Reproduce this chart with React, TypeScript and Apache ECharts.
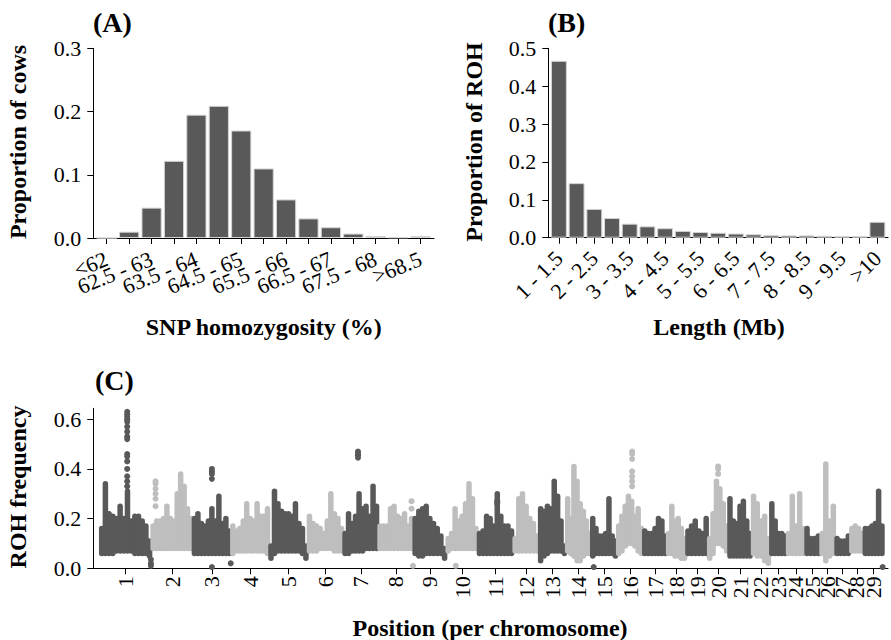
import React, { useEffect, useRef } from 'react';
import * as echarts from 'echarts';

// ---------- Panel A: SNP homozygosity ----------
const homozygosityBins = ['<62', '62 - 62.5', '62.5 - 63', '63 - 63.5', '63.5 - 64', '64 - 64.5', '64.5 - 65', '65 - 65.5', '65.5 - 66', '66 - 66.5', '66.5 - 67', '67 - 67.5', '67.5 - 68', '68 - 68.5', '>68.5'];
const cowProportion = [0, 0.010, 0.048, 0.122, 0.195, 0.209, 0.170, 0.110, 0.061, 0.031, 0.017, 0.007, 0.003, 0.001, 0.003];

// ---------- Panel B: ROH length ----------
const rohLengthBins = ['1 - 1.5', '1.5 - 2', '2 - 2.5', '2.5 - 3', '3 - 3.5', '3.5 - 4', '4 - 4.5', '4.5 - 5', '5 - 5.5', '5.5 - 6', '6 - 6.5', '6.5 - 7', '7 - 7.5', '7.5 - 8', '8 - 8.5', '8.5 - 9', '9 - 9.5', '9.5 - 10', '>10'];
const rohProportion = [0.467, 0.144, 0.076, 0.052, 0.037, 0.030, 0.025, 0.018, 0.015, 0.013, 0.011, 0.009, 0.007, 0.006, 0.006, 0.005, 0.004, 0.004, 0.042];

// ---------- Panel C: ROH frequency along the genome ----------
const chromosomes = ['1', '2', '3', '4', '5', '6', '7', '8', '9', '10', '11', '12', '13', '14', '15', '16', '17', '18', '19', '20', '21', '22', '23', '24', '25', '26', '27', '28', '29'];
const chromLengthMb = [165, 132, 123, 122, 123, 114, 112, 112, 106, 100, 114, 82, 87, 80, 83, 83, 77, 61, 70, 65, 75, 59, 53, 59, 48, 48, 48, 43, 64];

// upper envelope of the ROH frequency cloud, windows evenly spaced along each chromosome
const rohUpper = [
  [0.16, 0.34, 0.22, 0.21, 0.20, 0.25, 0.20, 0.31, 0.19, 0.21, 0.21, 0.19, 0.17, 0.11],
  [0.17, 0.19, 0.19, 0.20, 0.25, 0.20, 0.19, 0.30, 0.38, 0.33, 0.24, 0.20],
  [0.20, 0.22, 0.18, 0.17, 0.19, 0.24, 0.19, 0.29, 0.18, 0.20, 0.15],
  [0.17, 0.15, 0.16, 0.19, 0.26, 0.20, 0.19, 0.26, 0.21, 0.21, 0.24],
  [0.09, 0.31, 0.26, 0.23, 0.22, 0.22, 0.21, 0.26, 0.18, 0.16, 0.09],
  [0.21, 0.18, 0.17, 0.16, 0.14, 0.19, 0.30, 0.22, 0.20, 0.16],
  [0.14, 0.22, 0.18, 0.21, 0.30, 0.24, 0.25, 0.21, 0.33, 0.25],
  [0.17, 0.17, 0.17, 0.24, 0.25, 0.21, 0.20, 0.22, 0.17, 0.20],
  [0.20, 0.23, 0.24, 0.25, 0.20, 0.18, 0.16, 0.13, 0.08],
  [0.12, 0.14, 0.24, 0.19, 0.21, 0.26, 0.34, 0.28, 0.16],
  [0.14, 0.15, 0.21, 0.20, 0.17, 0.30, 0.21, 0.17, 0.17, 0.15],
  [0.12, 0.28, 0.30, 0.25, 0.20, 0.18, 0.13],
  [0.24, 0.23, 0.25, 0.24, 0.35, 0.29, 0.19, 0.09],
  [0.28, 0.20, 0.41, 0.35, 0.26, 0.23, 0.19, 0.14],
  [0.20, 0.16, 0.13, 0.13, 0.14, 0.28, 0.13, 0.11],
  [0.17, 0.21, 0.25, 0.29, 0.27, 0.21, 0.24, 0.16],
  [0.15, 0.14, 0.14, 0.16, 0.20, 0.19, 0.13],
  [0.14, 0.25, 0.19, 0.20, 0.16, 0.12],
  [0.15, 0.17, 0.19, 0.15, 0.14, 0.20],
  [0.12, 0.22, 0.35, 0.32, 0.26, 0.17],
  [0.28, 0.19, 0.18, 0.25, 0.27, 0.19, 0.14],
  [0.29, 0.26, 0.19, 0.21, 0.12],
  [0.26, 0.19, 0.14, 0.14, 0.13],
  [0.14, 0.29, 0.17, 0.30, 0.16],
  [0.16, 0.12, 0.12, 0.13],
  [0.14, 0.42, 0.19, 0.25],
  [0.12, 0.11, 0.11, 0.13],
  [0.16, 0.17, 0.16, 0.14],
  [0.16, 0.16, 0.17, 0.18, 0.31, 0.17],
];

// lower envelope of the cloud, same windows
const rohLower = [
  [0.06, 0.06, 0.06, 0.06, 0.07, 0.07, 0.07, 0.07, 0.07, 0.06, 0.06, 0.06, 0.06, 0.05],
  [0.08, 0.08, 0.08, 0.08, 0.08, 0.08, 0.08, 0.08, 0.08, 0.08, 0.08, 0.08],
  [0.06, 0.06, 0.06, 0.06, 0.06, 0.06, 0.06, 0.06, 0.06, 0.06, 0.06],
  [0.06, 0.07, 0.07, 0.07, 0.07, 0.07, 0.07, 0.07, 0.07, 0.07, 0.06],
  [0.04, 0.06, 0.07, 0.07, 0.07, 0.07, 0.07, 0.07, 0.07, 0.06, 0.04],
  [0.07, 0.07, 0.07, 0.08, 0.08, 0.08, 0.08, 0.07, 0.07, 0.07],
  [0.06, 0.06, 0.07, 0.07, 0.07, 0.07, 0.08, 0.08, 0.08, 0.08],
  [0.08, 0.08, 0.08, 0.08, 0.08, 0.08, 0.08, 0.08, 0.08, 0.08],
  [0.06, 0.05, 0.05, 0.06, 0.06, 0.06, 0.06, 0.06, 0.04],
  [0.07, 0.08, 0.08, 0.08, 0.08, 0.08, 0.08, 0.08, 0.08],
  [0.06, 0.06, 0.06, 0.06, 0.06, 0.06, 0.06, 0.06, 0.06, 0.06],
  [0.07, 0.07, 0.07, 0.07, 0.07, 0.07, 0.07],
  [0.03, 0.05, 0.06, 0.07, 0.07, 0.07, 0.07, 0.06],
  [0.07, 0.06, 0.05, 0.03, 0.03, 0.05, 0.06, 0.06],
  [0.05, 0.06, 0.06, 0.06, 0.06, 0.06, 0.06, 0.05],
  [0.06, 0.07, 0.09, 0.10, 0.10, 0.09, 0.07, 0.06],
  [0.06, 0.06, 0.06, 0.06, 0.06, 0.06, 0.06],
  [0.06, 0.06, 0.05, 0.05, 0.04, 0.04],
  [0.06, 0.06, 0.06, 0.06, 0.06, 0.06],
  [0.04, 0.06, 0.10, 0.10, 0.09, 0.07],
  [0.05, 0.05, 0.05, 0.05, 0.05, 0.05, 0.05],
  [0.06, 0.05, 0.05, 0.03, 0.02],
  [0.06, 0.06, 0.06, 0.06, 0.06],
  [0.06, 0.06, 0.06, 0.06, 0.06],
  [0.06, 0.06, 0.06, 0.06],
  [0.06, 0.03, 0.05, 0.06],
  [0.06, 0.06, 0.06, 0.06],
  [0.07, 0.07, 0.07, 0.07],
  [0.06, 0.06, 0.06, 0.06, 0.06, 0.06],
];

// isolated SNPs outside the cloud: [chromosome, relative position on chromosome, ROH frequency]
const isolatedSnps = [
  [1, 0.53, 0.63], [1, 0.53, 0.62], [1, 0.53, 0.61], [1, 0.53, 0.60], [1, 0.53, 0.59], [1, 0.53, 0.57],
  [1, 0.53, 0.55], [1, 0.53, 0.53], [1, 0.53, 0.52], [1, 0.53, 0.46], [1, 0.53, 0.45], [1, 0.53, 0.43],
  [1, 0.53, 0.40], [1, 0.53, 0.37], [1, 0.53, 0.35], [1, 0.53, 0.33],
  [1, 0.99, 0.035], [1, 0.99, 0.02], [1, 0.99, 0.01],
  [2, 0.10, 0.35], [2, 0.10, 0.34], [2, 0.10, 0.32], [2, 0.10, 0.30], [2, 0.10, 0.28], [2, 0.10, 0.25],
  [3, 0.50, 0.40], [3, 0.50, 0.39], [3, 0.50, 0.38], [3, 0.50, 0.36], [3, 0.50, 0.005], [3, 0.99, 0.02],
  [7, 0.42, 0.47], [7, 0.42, 0.46], [7, 0.42, 0.455], [7, 0.42, 0.445],
  [8, 0.95, 0.27], [8, 0.95, 0.24], [8, 0.99, 0.01],
  [10, 0.30, 0.01],
  [11, 0.55, 0.27], [11, 0.55, 0.26],
  [15, 0.10, 0.005],
  [16, 0.58, 0.47], [16, 0.58, 0.46], [16, 0.58, 0.44], [16, 0.58, 0.39], [16, 0.58, 0.37], [16, 0.58, 0.35], [16, 0.58, 0.33],
  [20, 0.50, 0.41], [20, 0.50, 0.40], [20, 0.50, 0.38],
  [29, 0.95, 0.005],
];

const FONT = 'Liberation Serif';
const DARK = '#595959';
const LIGHT = '#bebebe';

export default function App() {
  const ref = useRef<HTMLDivElement>(null);

  useEffect(() => {
    if (!ref.current) return;
    const chart = echarts.init(ref.current, null, { renderer: 'svg' });

    const starts: number[] = [];
    let acc = 0;
    chromLengthMb.forEach((len) => { starts.push(acc); acc += len; });
    const mids = chromLengthMb.map((len, i) => starts[i] + len / 2);

    const bandData: number[][] = [];
    chromosomes.forEach((_, i) => {
      const n = rohUpper[i].length;
      for (let j = 0; j < n; j++) {
        const pos = starts[i] + ((j + 0.5) / n) * chromLengthMb[i];
        bandData.push([pos, rohLower[i][j], rohUpper[i][j], i % 2]);
      }
    });
    const snpData = isolatedSnps.map(([c, rel, v]) => {
      const i = c - 1;
      return [starts[i] + rel * chromLengthMb[i], v, i % 2];
    });

    const axisLine = { show: true, onZero: false, lineStyle: { color: '#000', width: 1 } };
    const axisTickBase = { show: true, length: 6, inside: false, lineStyle: { color: '#000', width: 1 } };
    const labelBase = { color: '#000', fontFamily: FONT, fontSize: 22, hideOverlap: false };

    const hzTicks = homozygosityBins.map((_, i) => i + 1);
    const lenTicks = rohLengthBins.map((_, i) => i + 1);

    // empty guard labels sit at the axis ends so that no real label is treated as a min/max label
    const X_A = [0.4, 15.6];
    const X_B = [0.4, 19.6];
    const X_C = [-21, 2522];

    const catLabel = (names: string[]) => (v: number) => {
      const k = Math.round(v);
      return Math.abs(k - v) < 1e-6 ? names[k - 1] ?? '' : '';
    };

    const titleStyle = (text: string) => ({ text, fontFamily: FONT, fontWeight: 'bold', fontSize: 24, fill: '#000', align: 'center', verticalAlign: 'middle', textAlign: 'center', textVerticalAlign: 'middle' });
    const panelStyle = (text: string) => ({ text, fontFamily: FONT, fontWeight: 'bold', fontSize: 28, fill: '#000', align: 'left', verticalAlign: 'middle', textAlign: 'left', textVerticalAlign: 'middle' });

    const option: any = {
      animation: false,
      backgroundColor: '#fff',
      grid: [
        { left: 93.3, top: 48.3, width: 340.7, height: 189.7, containLabel: false, outerBoundsMode: 'none' },
        { left: 548.3, top: 48.3, width: 339.7, height: 189.4, containLabel: false, outerBoundsMode: 'none' },
        { left: 93.3, top: 408.3, width: 794.7, height: 160, containLabel: false, outerBoundsMode: 'none' },
      ],
      xAxis: [
        {
          type: 'value', gridIndex: 0, min: X_A[0], max: X_A[1],
          axisLine, splitLine: { show: false },
          axisTick: { ...axisTickBase, customValues: hzTicks },
          axisLabel: {
            ...labelBase, rotate: 22, margin: 20,
            customValues: [X_A[0], ...hzTicks.filter((v) => v % 2 === 1), X_A[1]],
            formatter: catLabel(homozygosityBins),
          },
        },
        {
          type: 'value', gridIndex: 1, min: X_B[0], max: X_B[1],
          axisLine, splitLine: { show: false },
          axisTick: { ...axisTickBase, customValues: lenTicks },
          axisLabel: {
            ...labelBase, rotate: 45, margin: 17,
            customValues: [X_B[0], ...lenTicks.filter((v) => v % 2 === 1), X_B[1]],
            formatter: catLabel(rohLengthBins),
          },
        },
        {
          type: 'value', gridIndex: 2, min: X_C[0], max: X_C[1],
          axisLine, splitLine: { show: false },
          axisTick: { ...axisTickBase, customValues: mids },
          axisLabel: {
            ...labelBase, rotate: 90, margin: 8,
            customValues: [X_C[0], ...mids, X_C[1]],
            formatter: (v: number) => {
              let best = 0;
              mids.forEach((m, i) => { if (Math.abs(m - v) < Math.abs(mids[best] - v)) best = i; });
              return Math.abs(mids[best] - v) < 1 ? chromosomes[best] : '';
            },
          },
        },
      ],
      yAxis: [
        {
          type: 'value', gridIndex: 0, min: 0, max: 0.3,
          axisLine, splitLine: { show: false },
          axisTick: { ...axisTickBase, customValues: [0, 0.1, 0.2, 0.3] },
          axisLabel: { ...labelBase, margin: 12, showMinLabel: true, showMaxLabel: true, customValues: [0, 0.1, 0.2, 0.3], formatter: (v: number) => v.toFixed(1) },
        },
        {
          type: 'value', gridIndex: 1, min: 0, max: 0.5,
          axisLine, splitLine: { show: false },
          axisTick: { ...axisTickBase, customValues: [0, 0.1, 0.2, 0.3, 0.4, 0.5] },
          axisLabel: { ...labelBase, margin: 12, showMinLabel: true, showMaxLabel: true, customValues: [0, 0.1, 0.2, 0.3, 0.4, 0.5], formatter: (v: number) => v.toFixed(1) },
        },
        {
          type: 'value', gridIndex: 2, min: 0, max: 0.644,
          axisLine, splitLine: { show: false },
          axisTick: { ...axisTickBase, customValues: [0, 0.2, 0.4, 0.6] },
          axisLabel: { ...labelBase, margin: 12, showMinLabel: true, showMaxLabel: true, customValues: [0, 0.2, 0.4, 0.6], formatter: (v: number) => v.toFixed(1) },
        },
      ],
      series: [
        {
          type: 'bar', xAxisIndex: 0, yAxisIndex: 0, silent: true,
          barWidth: 20.2,
          data: cowProportion.map((v, i) => [i + 1, v]),
          itemStyle: { color: DARK, borderColor: '#d4d4d4', borderWidth: 1 },
        },
        {
          type: 'bar', xAxisIndex: 1, yAxisIndex: 1, silent: true,
          barWidth: 15.9,
          data: rohProportion.map((v, i) => [i + 1, v]),
          itemStyle: { color: DARK, borderColor: '#d4d4d4', borderWidth: 1 },
        },
        {
          type: 'custom', xAxisIndex: 2, yAxisIndex: 2, silent: true,
          data: bandData,
          encode: { x: 0, y: [1, 2] },
          renderItem: (params: any, api: any) => {
            const x = api.value(0);
            const p1 = api.coord([x, api.value(1)]);
            const p2 = api.coord([x, api.value(2)]);
            return {
              type: 'line',
              shape: { x1: p1[0], y1: p1[1], x2: p2[0], y2: p2[1] },
              style: { stroke: api.value(3) ? LIGHT : DARK, lineWidth: 5.5, lineCap: 'round' },
            };
          },
        },
        {
          type: 'scatter', xAxisIndex: 2, yAxisIndex: 2, silent: true,
          symbol: 'circle', symbolSize: 6,
          data: snpData,
          itemStyle: { color: (p: any) => (p.data[2] ? LIGHT : DARK), opacity: 1 },
        },
      ],
      graphic: [
        { type: 'text', x: 93, y: 22.5, style: panelStyle('(A)') },
        { type: 'text', x: 548, y: 22.5, style: panelStyle('(B)') },
        { type: 'text', x: 95, y: 380.5, style: panelStyle('(C)') },
        { type: 'text', x: 17.5, y: 142, rotation: Math.PI / 2, style: titleStyle('Proportion of cows') },
        { type: 'text', x: 473.5, y: 142, rotation: Math.PI / 2, style: titleStyle('Proportion of ROH') },
        { type: 'text', x: 18, y: 487, rotation: Math.PI / 2, style: titleStyle('ROH frequency') },
        { type: 'text', x: 263.7, y: 327, style: titleStyle('SNP homozygosity (%)') },
        { type: 'text', x: 719, y: 327, style: titleStyle('Length (Mb)') },
        { type: 'text', x: 490, y: 628, style: titleStyle('Position (per chromosome)') },
      ],
    };

    chart.setOption(option);
    return () => chart.dispose();
  }, []);

  return (
    <div
      ref={ref}
      style={{ position: 'fixed', left: 0, top: 0, width: 891, height: 640, background: '#fff' }}
    />
  );
}
